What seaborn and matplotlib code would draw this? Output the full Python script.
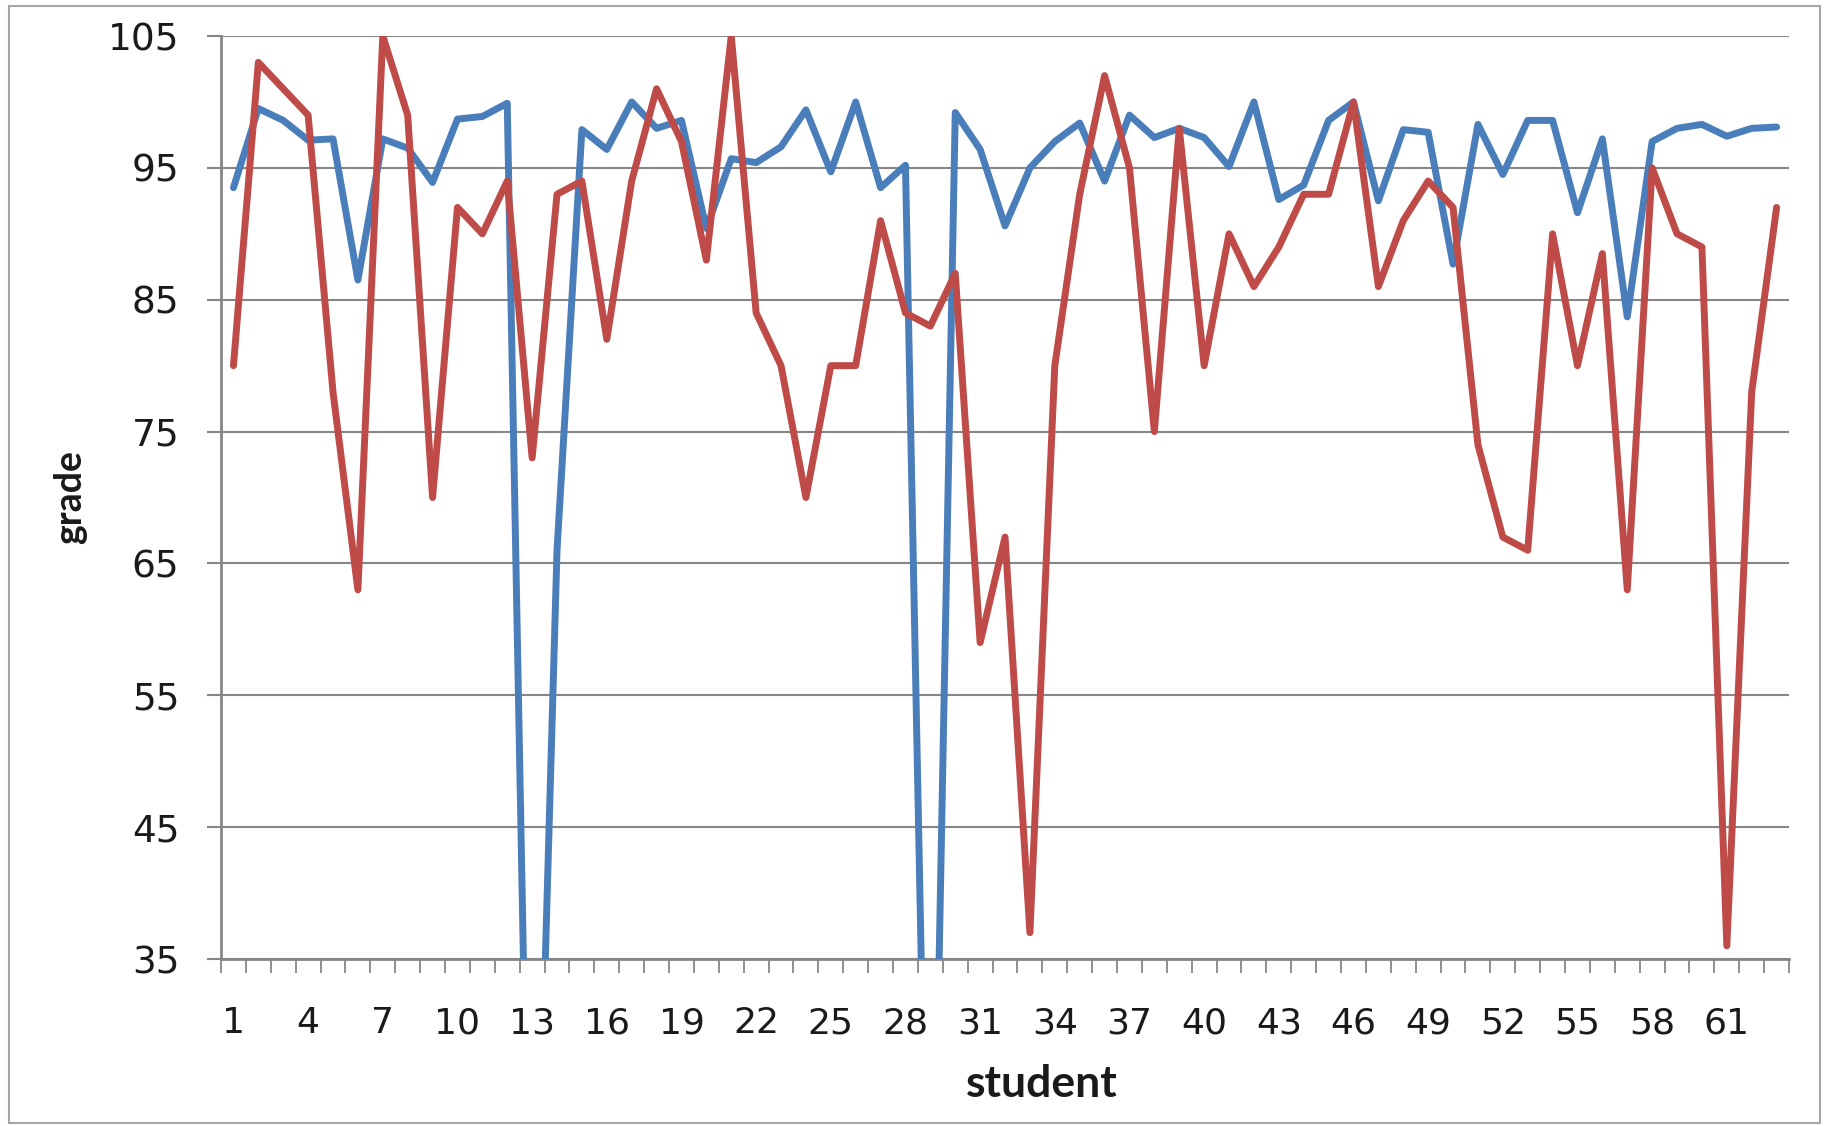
import numpy as np
import pandas as pd
import matplotlib
matplotlib.use("Agg")
import matplotlib.pyplot as plt
import seaborn as sns
from matplotlib.patches import Rectangle
from matplotlib.ticker import FixedLocator, NullFormatter

# Grades per student, two assessments
students = list(range(1, 64))

grades_blue = [
    93.5, 99.5, 98.6, 97.1, 97.2, 86.5, 97.2, 96.5, 93.9, 98.7,
    98.9, 99.9, 0, 66, 97.9, 96.4, 100, 98, 98.6, 90.4,
    95.7, 95.4, 96.6, 99.4, 94.7, 100, 93.5, 95.2, 0, 99.2,
    96.4, 90.6, 95, 97, 98.4, 94, 99, 97.3, 98, 97.3,
    95.1, 100, 92.6, 93.7, 98.6, 100, 92.5, 97.9, 97.7, 87.7,
    98.3, 94.5, 98.6, 98.6, 91.6, 97.2, 83.7, 97, 98, 98.3,
    97.4, 98, 98.1,
]

grades_red = [
    80, 103, 101, 99, 78, 63, 105, 99, 70, 92,
    90, 94, 73, 93, 94, 82, 94, 101, 97, 88,
    105, 84, 80, 70, 80, 80, 91, 84, 83, 87,
    59, 67, 37, 80, 93, 102, 95, 75, 98, 80,
    90, 86, 89, 93, 93, 100, 86, 91, 94, 92,
    74, 67, 66, 90, 80, 88.5, 63, 95, 90, 89,
    36, 78, 92,
]

y_ticks = [35, 45, 55, 65, 75, 85, 95, 105]
x_tick_labels = list(range(1, 64, 3))

df = pd.DataFrame({
    "student": students * 2,
    "grade": grades_blue + grades_red,
    "series": ["A"] * len(students) + ["B"] * len(students),
})

sns.set_theme(style="white")
plt.rcParams["font.family"] = ["DejaVu Sans"]

fig = plt.figure(figsize=(18.25, 11.26), dpi=100)
ax = fig.add_axes([0.1211, 0.1483, 0.9803 - 0.1211, 0.968 - 0.1483])

axis_grey = "#868686"

sns.lineplot(
    data=df, x="student", y="grade", hue="series",
    palette={"A": "#4A7EBB", "B": "#BE4B48"},
    lw=5, legend=False, ax=ax, zorder=3,
    solid_joinstyle="round", solid_capstyle="round",
)
for line in ax.get_lines():
    line.set_linewidth(5)

ax.set_xlim(0.5, 63.5)
ax.set_ylim(35, 105)

# horizontal gridlines
ax.set_yticks(y_ticks)
ax.yaxis.grid(True, color=axis_grey, linewidth=1.5)
ax.xaxis.grid(False)
ax.set_axisbelow(True)

# category ticks between students, labels every third student
ax.xaxis.set_major_locator(FixedLocator(x_tick_labels))
ax.set_xticklabels([str(v) for v in x_tick_labels])
ax.xaxis.set_minor_locator(FixedLocator(np.arange(0.5, 64, 1.0)))
ax.xaxis.set_minor_formatter(NullFormatter())
ax.tick_params(axis="x", which="major", length=0, pad=34, labelsize=26,
               labelcolor="#1a1a1a")
ax.tick_params(axis="x", which="minor", bottom=True, length=10, width=1.3,
               color=axis_grey, direction="out")
ax.tick_params(axis="y", which="major", left=True, length=10, width=1.5,
               color=axis_grey, direction="out", pad=20, labelsize=27,
               labelcolor="#1a1a1a")

for side in ["top", "right"]:
    ax.spines[side].set_visible(False)
for side in ["left", "bottom"]:
    ax.spines[side].set_color(axis_grey)
    ax.spines[side].set_linewidth(2)

ax.set_xlabel("student", fontsize=32, fontweight="bold", family="Lato",
              color="#1a1a1a")
ax.xaxis.label.set_va("center")
ax.xaxis.set_label_coords(0.5236, -0.135)
ax.set_ylabel("grade", fontsize=27, fontweight="bold", family="Lato",
              color="#1a1a1a")
ax.yaxis.label.set_va("center")
ax.yaxis.set_label_coords(-0.0963, 0.5)

# chart border
fig.patches.append(Rectangle((0.005, 0.003), 0.992, 0.992,
                             transform=fig.transFigure, fill=False,
                             edgecolor="#A6A6A6", linewidth=1.5))

fig.savefig("out.png", dpi=100)
